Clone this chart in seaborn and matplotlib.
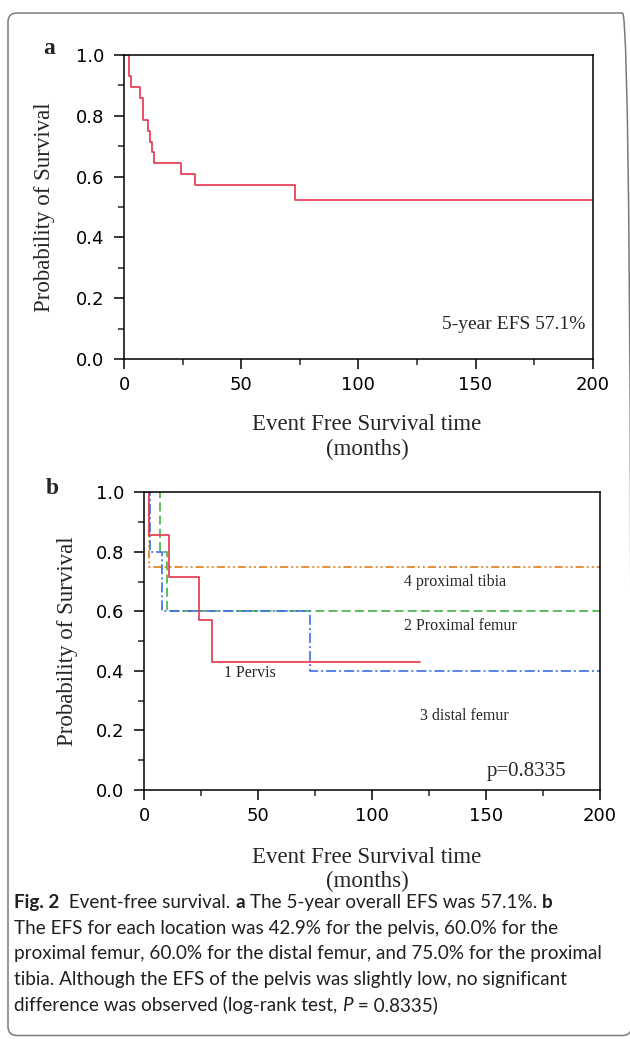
import matplotlib
matplotlib.use("Agg")
import matplotlib.pyplot as plt
import matplotlib.ticker as mtick
from matplotlib.patches import FancyBboxPatch
import pandas as pd
import seaborn as sns

sns.set_theme(style="ticks")
plt.rcParams["font.family"] = ["DejaVu Sans"]
plt.rcParams["lines.scale_dashes"] = False

W, H = 630, 1039

# panel a: overall event free survival (months, probability)
TIME_A = [0, 2.1, 3.0, 7.0, 8.0, 10.1, 11.0, 12.0, 13.0, 24.2, 30.1, 72.9, 200]
SURV_A = [1.0, 0.929, 0.893, 0.857, 0.786, 0.750, 0.714, 0.679, 0.643, 0.607, 0.571, 0.524, 0.524]

# panel b: by tumour location
PELVIS_T = [0, 2.0, 11.1, 24.1, 30.0, 121]
PELVIS_S = [1.0, 0.857, 0.714, 0.571, 0.429, 0.429]
PROX_FEMUR_T = [0, 7.0, 10.0, 200]
PROX_FEMUR_S = [1.0, 0.8, 0.6, 0.6]
DIST_FEMUR_T = [0, 2.6, 8.0, 73.0, 200]
DIST_FEMUR_S = [1.0, 0.8, 0.6, 0.4, 0.4]
PROX_TIBIA_T = [0, 2.0, 200]
PROX_TIBIA_S = [1.0, 0.75, 0.75]

SERIF = ["Liberation Serif", "DejaVu Serif"]
CAPTION_FONT = ["Lato", "DejaVu Sans"]
RED = "#e6344d"
GREEN = "#3fb148"
BLUE = "#3b6ee0"
ORANGE = "#e27a1c"


def _step(ax, t, s, color, dashes=None):
    df = pd.DataFrame({"t": t, "s": s})
    kw = dict(drawstyle="steps-post", color=color, lw=1.2, estimator=None, sort=False, ax=ax)
    if dashes is not None:
        kw["linestyle"] = (0, dashes)
    sns.lineplot(data=df, x="t", y="s", **kw)


def _style_axes(ax, label_x, label_y_top):
    ax.set_xlim(0, 200)
    ax.set_ylim(0, 1.0)
    ax.xaxis.set_major_locator(mtick.MultipleLocator(50))
    ax.xaxis.set_minor_locator(mtick.MultipleLocator(25))
    ax.yaxis.set_major_locator(mtick.MultipleLocator(0.2))
    ax.yaxis.set_minor_locator(mtick.MultipleLocator(0.1))
    ax.yaxis.set_major_formatter(mtick.FormatStrFormatter("%.1f"))
    ax.tick_params(which="major", direction="out", length=7, width=1.1, labelsize=13, pad=5, colors="black")
    ax.tick_params(which="minor", direction="out", length=4, width=1.1)
    ax.tick_params(axis="y", which="major", pad=7)
    for sp in ax.spines.values():
        sp.set_linewidth(1.1)
        sp.set_color("black")
    ax.set_xlabel("Event Free Survival time\n(months)", fontfamily=SERIF, fontsize=16.5, linespacing=1.2)
    ax.xaxis.label.set_va("top")
    ax.xaxis.set_label_coords(label_x, label_y_top)
    ax.set_ylabel("Probability of Survival", fontfamily=SERIF, fontsize=16.5)
    ax.yaxis.label.set_va("center")


fig = plt.figure(figsize=(W / 100, H / 100), dpi=100)

# panel a
ax_a = fig.add_axes([124 / W, 1 - 359.3 / H, 468.7 / W, 304.6 / H])
_step(ax_a, TIME_A, SURV_A, RED)
_style_axes(ax_a, (367 - 124) / 468.7, -55 / 304.6)
ax_a.yaxis.set_label_coords((45 - 124) / 468.7, 0.5)
ax_a.text(135.7, 0.113, "5-year EFS 57.1%", fontfamily=SERIF, fontsize=14, va="center", ha="left")
fig.text(49 / W, 1 - 48 / H, "a", fontfamily=SERIF, fontsize=17, fontweight="bold", ha="center", va="center")

# panel b
ax_b = fig.add_axes([144 / W, 1 - 790 / H, 456 / W, 297.7 / H])
_step(ax_b, PROX_TIBIA_T, PROX_TIBIA_S, ORANGE, (5.8, 2.2, 1.4, 2.2, 1.4, 2.2))
_step(ax_b, PROX_FEMUR_T, PROX_FEMUR_S, GREEN, (6.5, 3.0))
_step(ax_b, DIST_FEMUR_T, DIST_FEMUR_S, BLUE, (7.2, 2.2, 1.4, 2.2))
_step(ax_b, PELVIS_T, PELVIS_S, RED)
_style_axes(ax_b, (367 - 144) / 456, -57 / 297.7)
ax_b.yaxis.set_label_coords((68 - 144) / 456, 0.5)
lab = dict(fontfamily=SERIF, fontsize=11.5, va="center", ha="left")
ax_b.text(114, 0.698, "4 proximal tibia", **lab)
ax_b.text(114, 0.551, "2 Proximal femur", **lab)
ax_b.text(35, 0.394, "1 Pervis", **lab)
ax_b.text(121, 0.249, "3 distal femur", **lab)
ax_b.text(150.3, 0.062, "p=0.8335", fontfamily=SERIF, fontsize=15, va="center", ha="left")
fig.text(52 / W, 1 - 489 / H, "b", fontfamily=SERIF, fontsize=17, fontweight="bold", ha="center", va="center")

# caption
CAPTION = [
    [("Fig. 2", "bold", "normal"), ("  Event-free survival. ", "normal", "normal"), ("a", "bold", "normal"),
     (" The 5-year overall EFS was 57.1%. ", "normal", "normal"), ("b", "bold", "normal")],
    [("The EFS for each location was 42.9% for the pelvis, 60.0% for the", "normal", "normal")],
    [("proximal femur, 60.0% for the distal femur, and 75.0% for the proximal", "normal", "normal")],
    [("tibia. Although the EFS of the pelvis was slightly low, no significant", "normal", "normal")],
    [("difference was observed (log-rank test, ", "normal", "normal"), ("P", "normal", "italic"),
     (" = 0.8335)", "normal", "normal")],
]
renderer = fig.canvas.get_renderer()
for i, parts in enumerate(CAPTION):
    x = 14
    yb = 908 + i * 25.7
    for text, weight, style in parts:
        t = fig.text(x / W, 1 - yb / H, text, fontfamily=CAPTION_FONT, fontsize=13.55,
                     fontweight=weight, fontstyle=style, ha="left", va="baseline", color="#231f20")
        x += t.get_window_extent(renderer).width

frame = FancyBboxPatch((0.08, 0.035), 6.235, 10.225, boxstyle="round,pad=0,rounding_size=0.09",
                       transform=fig.dpi_scale_trans, fill=False, edgecolor="#7a7a7a", lw=1.1)
fig.add_artist(frame)

fig.savefig("out.png", dpi=100)
